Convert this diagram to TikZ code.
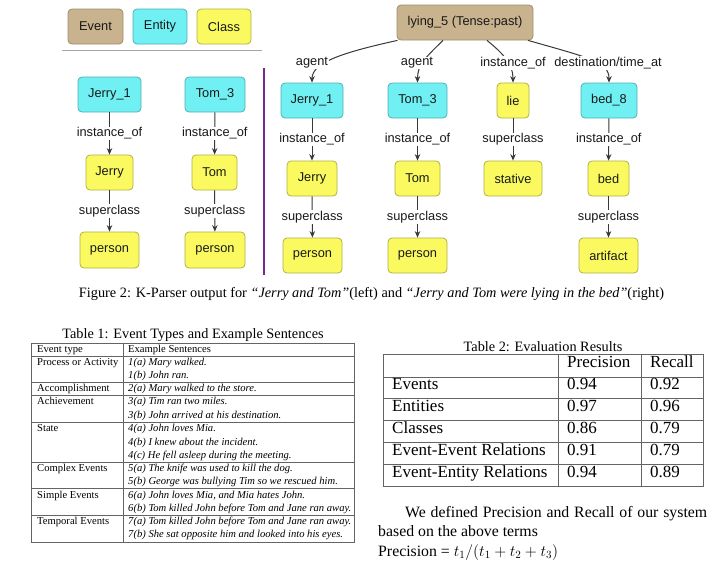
\documentclass[tikz,border=0pt]{standalone}
\usepackage{fix-cm}
\usepackage{fontspec}
\setmainfont{Liberation Serif}
\setsansfont{Liberation Sans}
\usetikzlibrary{arrows.meta}
\definecolor{evfill}{RGB}{201,178,142}
\definecolor{evdraw}{RGB}{160,140,110}
\definecolor{enfill}{RGB}{112,240,242}
\definecolor{endraw}{RGB}{80,176,184}
\definecolor{clfill}{RGB}{250,250,96}
\definecolor{cldraw}{RGB}{176,176,70}
\definecolor{edgecol}{RGB}{56,56,56}
\definecolor{purp}{RGB}{122,40,140}
\definecolor{rulecol}{RGB}{100,100,100}
\newcommand\dgfont{\sffamily\fontsize{12.8}{15}\selectfont}
\newcommand\tonefont{\fontsize{10.6}{13}\selectfont}
\newcommand\capfont{\fontsize{14.3}{17}\selectfont}
\newcommand\ttwofont{\fontsize{17}{20}\selectfont}
\newcommand\parfont{\fontsize{15.8}{19}\selectfont}
\tikzset{
  boxbase/.style={draw, rounded corners=4pt, line width=0.8pt, inner sep=0pt, font=\dgfont, text=black!90},
  evt/.style={boxbase, fill=evfill, draw=evdraw},
  ent/.style={boxbase, fill=enfill, draw=endraw},
  cls/.style={boxbase, fill=clfill, draw=cldraw},
  elab/.style={fill=white, inner sep=1pt, font=\dgfont, text=black!90},
  arr/.style={draw=edgecol, line width=1pt, -{Stealth[length=6.5pt,width=5.5pt]}},
  tcell/.style={anchor=west, inner sep=0pt, font=\tonefont, text height=0.7em, text depth=0.2em},
  tcelli/.style={tcell, font=\tonefont\itshape},
  ttcell/.style={anchor=west, inner sep=0pt, font=\ttwofont, text height=0.7em, text depth=0.2em},
  rule/.style={draw=rulecol, line width=0.7pt},
}
\begin{document}
\begin{tikzpicture}[x=1pt,y=-1pt]
\useasboundingbox (0,0) rectangle (720,565);
% ---------- legend ----------
\node[evt, minimum width=55pt, minimum height=35pt] (lgev) at (95.5,26.5) {Event};
\node[ent, minimum width=54pt, minimum height=35pt] (lgen) at (160,26.5) {Entity};
\node[cls, minimum width=54pt, minimum height=35pt] (lgcl) at (224,26.5) {Class};
\coordinate (lgl) at (62,50);
\coordinate (lgr) at (262,50);
\draw[draw=black!35, line width=0.9pt] (lgl) -- (lgr);
% separator
\coordinate (sept) at (264,68);
\coordinate (sepb) at (264,275);
\draw[draw=purp, line width=2.2pt] (sept) -- (sepb);
% ---------- left diagram ----------
\node[ent, minimum width=63pt, minimum height=35pt] (jerryoneL) at (109.5,94.5) {Jerry\_1};
\node[ent, minimum width=60pt, minimum height=35pt] (tomthreeL) at (215,94.5) {Tom\_3};
\node[cls, minimum width=47pt, minimum height=35pt] (jerryL) at (109.5,172.5) {Jerry};
\node[cls, minimum width=45pt, minimum height=35pt] (tomL) at (214.5,172.5) {Tom};
\node[cls, minimum width=59pt, minimum height=36pt] (personLa) at (109.5,250) {person};
\node[cls, minimum width=60pt, minimum height=36pt] (personLb) at (215,250) {person};
\draw[arr] (jerryoneL) -- (jerryL) node[elab, midway] (lA) {instance\_of};
\draw[arr] (tomthreeL) -- (tomL) node[elab, midway] (lB) {instance\_of};
\draw[arr] (jerryL) -- (personLa) node[elab, midway] (lC) {superclass};
\draw[arr] (tomL) -- (personLb) node[elab, midway] (lD) {superclass};
% ---------- right diagram ----------
\node[evt, minimum width=136pt, minimum height=35pt] (lying) at (465,22.5) {lying\_5 (Tense:past)};
\node[ent, minimum width=62pt, minimum height=35pt] (jerryoneR) at (312,100.5) {Jerry\_1};
\node[ent, minimum width=59pt, minimum height=35pt] (tomthreeR) at (417.5,100.5) {Tom\_3};
\node[cls, minimum width=32pt, minimum height=35pt] (lie) at (513,100.5) {lie};
\node[ent, minimum width=56pt, minimum height=35pt] (bedeight) at (609,100.5) {bed\_8};
\node[cls, minimum width=50pt, minimum height=35pt] (jerryR) at (312,178.5) {Jerry};
\node[cls, minimum width=45pt, minimum height=35pt] (tomR) at (417.5,178.5) {Tom};
\node[cls, minimum width=58pt, minimum height=35pt] (stative) at (513,178.5) {stative};
\node[cls, minimum width=41pt, minimum height=35pt] (bedR) at (608.5,178.5) {bed};
\node[cls, minimum width=59pt, minimum height=35pt] (personRa) at (312.5,255.5) {person};
\node[cls, minimum width=59pt, minimum height=35pt] (personRb) at (417.5,255.5) {person};
\node[cls, minimum width=59pt, minimum height=35pt] (artifact) at (608.5,255.5) {artifact};
% edges from lying
\draw[arr] ([xshift=-67.5pt]lying.south) .. controls (345,52) and (312,62) .. (jerryoneR.north);
\draw[arr] ([xshift=-22pt]lying.south) .. controls (425,58) and (417.5,65) .. (tomthreeR.north);
\draw[arr] ([xshift=22pt]lying.south) .. controls (505,55) and (513,65) .. (lie.north);
\draw[arr] ([xshift=63pt]lying.south) .. controls (590,58) and (609,62) .. (bedeight.north);
\node[elab] (eA) at (312,63) {agent};
\node[elab] (eB) at (417,63) {agent};
\node[elab] (eC) at (513,63) {instance\_of};
\node[elab] (eD) at (608,63) {destination/time\_at};
\draw[arr] (jerryoneR) -- (jerryR) node[elab, midway] (rA) {instance\_of};
\draw[arr] (tomthreeR) -- (tomR) node[elab, midway] (rB) {instance\_of};
\draw[arr] (lie) -- (stative) node[elab, midway] (rC) {superclass};
\draw[arr] (bedeight) -- (bedR) node[elab, midway] (rD) {instance\_of};
\draw[arr] (jerryR) -- (personRa) node[elab, midway] (rE) {superclass};
\draw[arr] (tomR) -- (personRb) node[elab, midway] (rF) {superclass};
\draw[arr] (bedR) -- (artifact) node[elab, midway] (rG) {superclass};
% ---------- figure caption ----------
\node[font=\capfont, inner sep=0pt] (figcap) at (371.5,294) {Figure 2: K-Parser output for \textit{``Jerry and Tom''}(left) and \textit{``Jerry and Tom were lying in the bed''}(right)};
% ---------- Table 1 ----------
\node[font=\capfont, inner sep=0pt] (tonecap) at (193,335) {Table 1: Event Types and Example Sentences};
\draw[rule] (31,343) rectangle (354,542);
\draw[rule] (123,343) -- (123,542);
\foreach \yy in {356,382,395,422,462,488,515} { \draw[rule] (31,\yy) -- (354,\yy); }
\node[tcell] (ta0) at (37,350) {Event type};
\node[tcell] (tb0) at (128,350) {Example Sentences};
\node[tcell] (ta1) at (37,363) {Process or Activity};
\node[tcelli] (tb1) at (128,363) {1(a) Mary walked.};
\node[tcelli] (tb2) at (128,376) {1(b) John ran.};
\node[tcell] (ta3) at (37,389) {Accomplishment};
\node[tcelli] (tb3) at (128,389) {2(a) Mary walked to the store.};
\node[tcell] (ta4) at (37,402) {Achievement};
\node[tcelli] (tb4) at (128,402) {3(a) Tim ran two miles.};
\node[tcelli] (tb5) at (128,415.5) {3(b) John arrived at his destination.};
\node[tcell] (ta6) at (37,429) {State};
\node[tcelli] (tb6) at (128,429) {4(a) John loves Mia.};
\node[tcelli] (tb7) at (128,442.5) {4(b) I knew about the incident.};
\node[tcelli] (tb8) at (128,456) {4(c) He fell asleep during the meeting.};
\node[tcell] (ta9) at (37,469) {Complex Events};
\node[tcelli] (tb9) at (128,469) {5(a) The knife was used to kill the dog.};
\node[tcelli] (tb10) at (128,482) {5(b) George was bullying Tim so we rescued him.};
\node[tcell] (ta11) at (37,496) {Simple Events};
\node[tcelli] (tb11) at (128,496) {6(a) John loves Mia, and Mia hates John.};
\node[tcelli] (tb12) at (128,509) {6(b) Tom killed John before Tom and Jane ran away.};
\node[tcell] (ta13) at (37,522) {Temporal Events};
\node[tcelli] (tb13) at (128,522) {7(a) Tom killed John before Tom and Jane ran away.};
\node[tcelli] (tb14) at (128,535) {7(b) She sat opposite him and looked into his eyes.};
% ---------- Table 2 ----------
\node[font=\capfont, inner sep=0pt] (ttwocap) at (543,347) {Table 2: Evaluation Results};
\draw[rule] (383,354) rectangle (703,486);
\draw[rule] (558,354) -- (558,486);
\draw[rule] (641,354) -- (641,486);
\foreach \yy in {377,398,420,442,464} { \draw[rule] (383,\yy) -- (703,\yy); }
\node[ttcell] (h1) at (567,365) {Precision};
\node[ttcell] (h2) at (650,365) {Recall};
\node[ttcell] (ra) at (392,387) {Events};
\node[ttcell] (rap) at (567,387) {0.94};
\node[ttcell] (rar) at (650,387) {0.92};
\node[ttcell] (rb) at (392,409) {Entities};
\node[ttcell] (rbp) at (567,409) {0.97};
\node[ttcell] (rbr) at (650,409) {0.96};
\node[ttcell] (rc) at (392,431) {Classes};
\node[ttcell] (rcp) at (567,431) {0.86};
\node[ttcell] (rcr) at (650,431) {0.79};
\node[ttcell] (rd) at (392,453) {Event-Event Relations};
\node[ttcell] (rdp) at (567,453) {0.91};
\node[ttcell] (rdr) at (650,453) {0.79};
\node[ttcell] (re) at (392,475) {Event-Entity Relations};
\node[ttcell] (rep) at (567,475) {0.94};
\node[ttcell] (rer) at (650,475) {0.89};
% ---------- paragraph ----------
\node[anchor=west, inner sep=0pt, font=\parfont, text height=0.7em, text depth=0.2em] (pa) at (405,515) {\makebox[302pt][s]{We defined Precision and Recall of our system}};
\node[anchor=west, inner sep=0pt, font=\parfont, text height=0.7em, text depth=0.2em] (pb) at (378,534) {based on the above terms};
\node[anchor=west, inner sep=0pt, font=\parfont, text height=0.7em, text depth=0.2em] (pc) at (378,554) {Precision = $t_1/(t_1+t_2+t_3)$};
\end{tikzpicture}
\end{document}
